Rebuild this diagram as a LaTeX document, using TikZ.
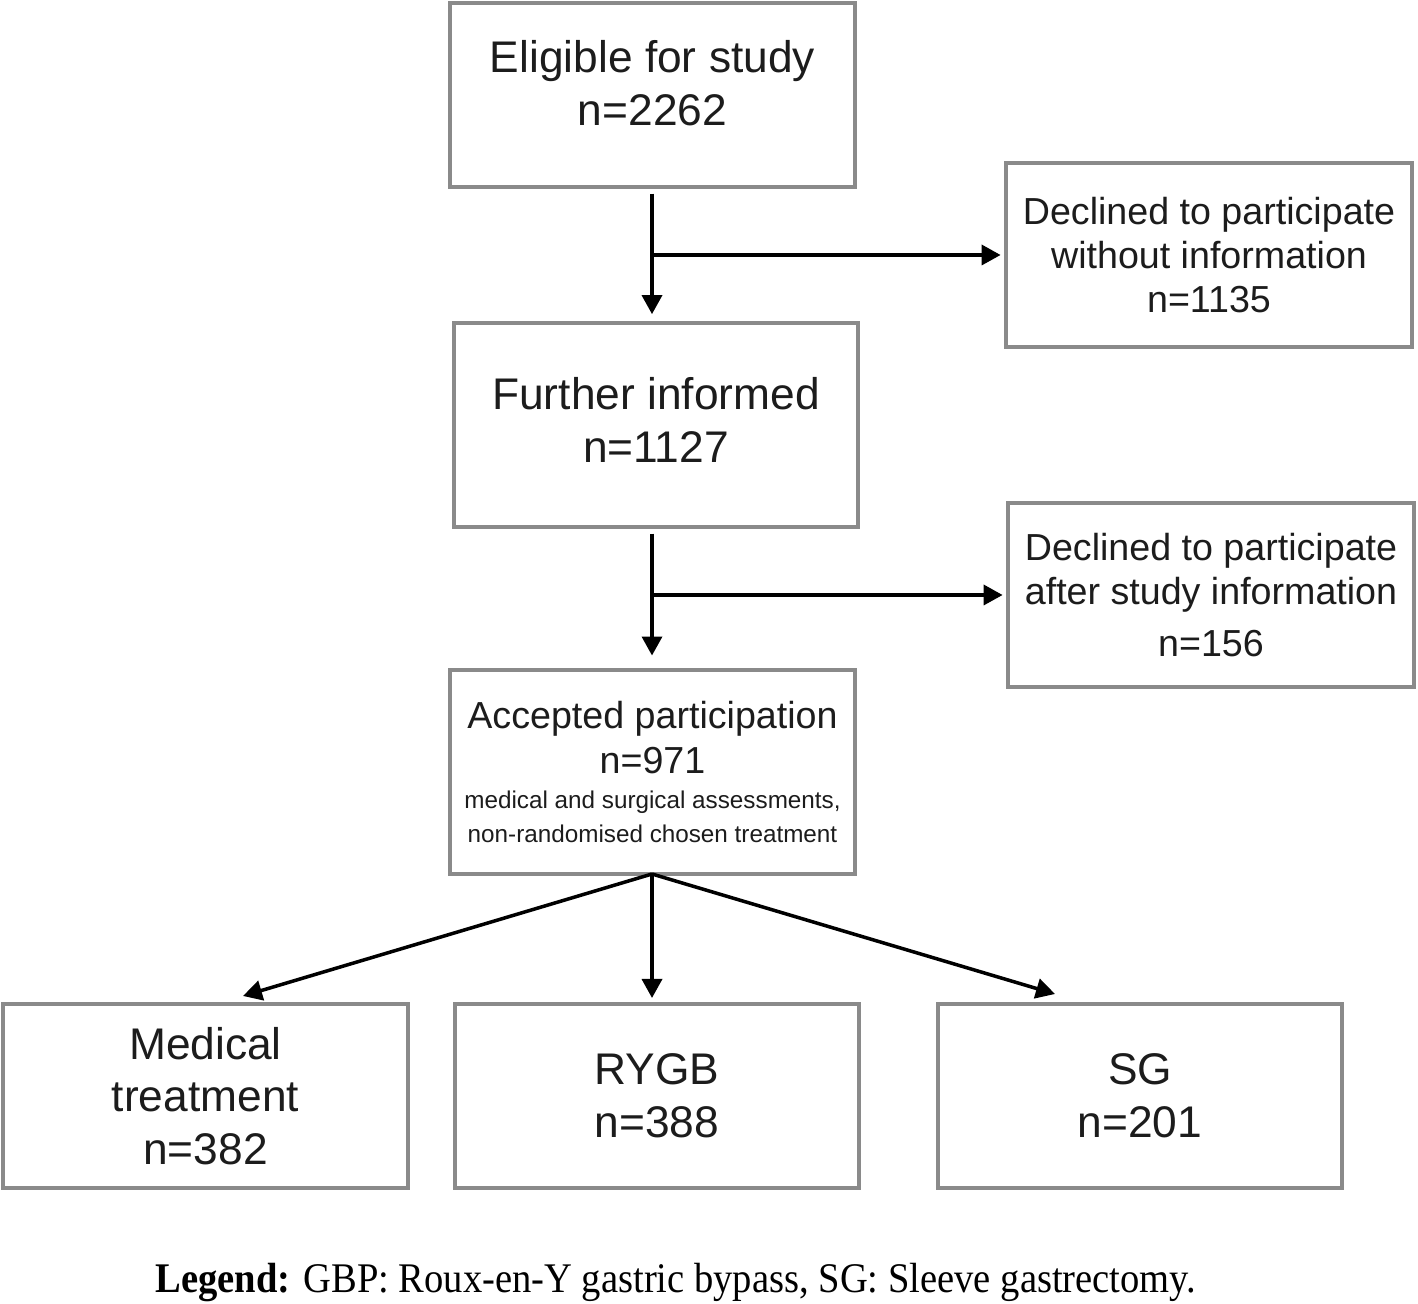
\documentclass[tikz,border=0pt]{standalone}
\usepackage{fontspec}
\setmainfont{Liberation Sans}
\newfontfamily\legendfont{Liberation Serif}
\usetikzlibrary{arrows.meta,calc}
\definecolor{boxgray}{HTML}{8A8A8A}
\definecolor{txt}{HTML}{1C1C1C}
\tikzset{
  box/.style={draw=boxgray, line width=1pt, text=txt, align=center, inner sep=0pt},
  bigtext/.style={font=\fontsize{12.6}{15}\selectfont},
  midtext/.style={font=\fontsize{10.7}{12.6}\selectfont},
  arr/.style={draw=black, line width=1pt, -{Triangle[length=0.19cm,width=0.2cm]}},
  plain/.style={draw=black, line width=1pt}
}
\begin{document}
\begin{tikzpicture}[x=0.01cm,y=-0.01cm]
\useasboundingbox (0,0) rectangle (1418,1304);
% boxes
\node[box,bigtext,minimum width=4.05cm,minimum height=1.84cm] (elig) at (652.5,95) {Eligible for study\\n=2262\\[-8pt]\mbox{}};
\node[box,midtext,minimum width=4.06cm,minimum height=1.84cm] (dec1) at (1209,255) {Declined to participate\\without information\\n=1135};
\node[box,bigtext,minimum width=4.04cm,minimum height=2.04cm] (furt) at (656,425) {Further informed\\n=1127\\[-12pt]\mbox{}};
\node[box,midtext,minimum width=4.06cm,minimum height=1.84cm] (dec2) at (1211,595) {Declined to participate\\after study information\\[2pt]n=156};
\node[box,midtext,minimum width=4.05cm,minimum height=2.04cm] (acc) at (652.5,772) {Accepted participation\\n=971\\[-2.5pt]{\fontsize{6.9}{8}\selectfont medical and surgical assessments,}\\[-3pt]{\fontsize{6.9}{8}\selectfont non-randomised chosen treatment}};
\node[box,bigtext,minimum width=4.05cm,minimum height=1.84cm] (med) at (205.5,1096) {Medical\\treatment\\n=382};
\node[box,bigtext,minimum width=4.04cm,minimum height=1.84cm] (rygb) at (657,1096) {RYGB\\n=388};
\node[box,bigtext,minimum width=4.04cm,minimum height=1.84cm] (sg) at (1140,1096) {SG\\n=201};
% connectors
\coordinate (j1) at (652,255);
\coordinate (j2) at (652,595);
\draw[arr, shorten <=1.4pt, shorten >=2pt] (elig.south -| j1) -- (furt.north -| j1);
\draw[arr, shorten >=1pt] (j1) -- (dec1.west);
\draw[arr, shorten <=1.4pt, shorten >=3.6pt] (furt.south -| j2) -- (acc.north -| j2);
\draw[arr, shorten >=1pt] (j2) -- (dec2.west);
\coordinate (src) at (652,874);
\coordinate (medT) at (243,996);
\coordinate (rygbT) at (652,998);
\coordinate (sgT) at (1055,994);
\draw[arr] (src) -- (medT);
\draw[arr] (src) -- (rygbT);
\draw[arr] (src) -- (sgT);
% legend
\node[inner sep=0pt, text=black] (legend) at (676,1283) {\resizebox{10.4cm}{\height}{\legendfont\fontsize{12}{14}\selectfont\textbf{Legend:} GBP: Roux-en-Y gastric bypass, SG: Sleeve gastrectomy.}};
\end{tikzpicture}
\end{document}
